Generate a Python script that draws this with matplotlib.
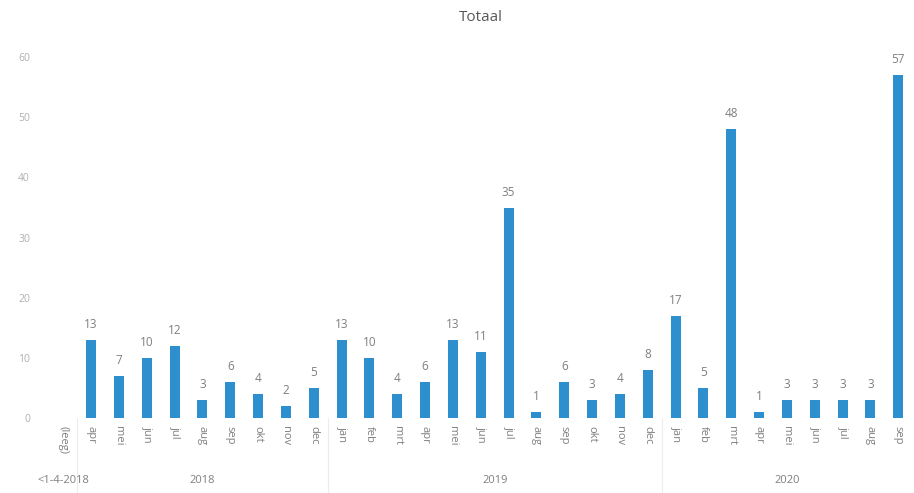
import numpy as np
from matplotlib import pyplot as plt

plt.rcParams['font.family'] = ['Open Sans', 'DejaVu Sans']

months = ["(leeg)",
          "apr", "mei", "jun", "jul", "aug", "sep", "okt", "nov", "dec",
          "jan", "feb", "mrt", "apr", "mei", "jun", "jul", "aug", "sep", "okt", "nov", "dec",
          "jan", "feb", "mrt", "apr", "mei", "jun", "jul", "aug", "sep"]
values = [np.nan,
          13, 7, 10, 12, 3, 6, 4, 2, 5,
          13, 10, 4, 6, 13, 11, 35, 1, 6, 3, 4, 8,
          17, 5, 48, 1, 3, 3, 3, 3, 57]
groups = ["<1-4-2018", "2018", "2019", "2020"]
group_sizes = [1, 9, 12, 9]

BAR = "#2e8fcf"
TXT = "#7f7f7f"

fig = plt.figure(figsize=(9.14, 4.93), dpi=100)
ax = fig.add_axes([0.054, 0.152, 0.944, 0.732])

x = np.arange(len(months))
ax.bar(x, values, width=0.36, color=BAR)
for xi, v in zip(x, values):
    if not np.isnan(v):
        ax.text(xi, v + 1.5, str(int(v)), ha="center", va="bottom",
                fontsize=8.5, color=TXT)

ax.set_xlim(-0.5, len(months) - 0.5)
ax.set_ylim(0, 60)
ax.set_yticks(range(0, 61, 10))
ax.tick_params(axis="y", length=0, labelsize=7.5, labelcolor="#b0b0b0", pad=14)
ax.set_xticks(x)
ax.set_xticklabels(months, rotation=270, fontsize=8, color=TXT)
ax.tick_params(axis="x", length=0, pad=6)
for s in ax.spines.values():
    s.set_visible(False)

ax.set_title("Totaal", fontsize=11, color="#595959", pad=26)

# group labels and separators below the axis
start = 0
for g, n in zip(groups, group_sizes):
    center = start + (n - 1) / 2
    ax.text(center, -10.3, g, ha="center", va="center", fontsize=8,
            color=TXT, clip_on=False)
    if start > 0:
        ax.plot([start - 0.5, start - 0.5], [0, -13], color="#ececec",
                lw=0.8, clip_on=False)
    start += n

plt.savefig("out.png", dpi=100)
